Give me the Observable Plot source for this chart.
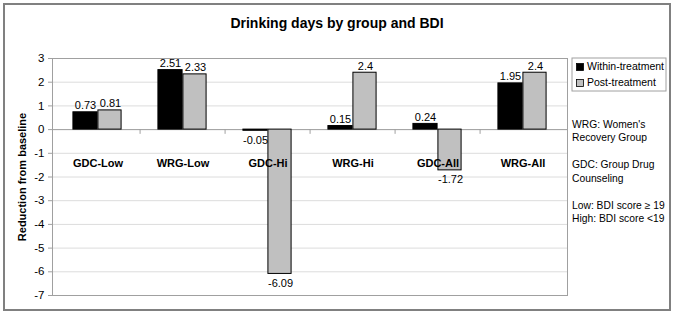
<!DOCTYPE html>
<html><head><meta charset="utf-8">
<script src="https://cdn.jsdelivr.net/npm/d3@7"></script>
<script src="https://cdn.jsdelivr.net/npm/@observablehq/plot@0.6"></script>
<style>
body{margin:0;background:#fff;}
#chart svg{font-family:Arial,"Liberation Sans",sans-serif;display:block;}
</style>
</head><body><div id="chart"></div>
<script>
const categories = ["GDC-Low","WRG-Low","GDC-Hi","WRG-Hi","GDC-All","WRG-All"];
const seriesNames = ["Within-treatment","Post-treatment"];
const withinValues = [0.73, 2.51, -0.05, 0.15, 0.24, 1.95];
const postValues = [0.81, 2.33, -6.09, 2.4, -1.72, 2.4];
const yTicks = [-7,-6,-5,-4,-3,-2,-1,0,1,2,3];
const titleText = "Drinking days by group and BDI";
const yLabel = "Reduction from baseline";
const noteLines = ["WRG: Women's","Recovery Group","","GDC: Group Drug","Counseling","","Low: BDI score \u2265 19","High: BDI score <19"];
const seriesColors = ["#000000","#c0c0c0"];

const withinRows = categories.map((c,i)=>({cat:c, value:withinValues[i]}));
const postRows = categories.map((c,i)=>({cat:c, value:postValues[i]}));

const W = 675, H = 316;
const mL = 52, mR = 108, mT = 58, mB = 21;
const bw = (W - mL - mR) / categories.length;
const barW = 25;
const half = bw/2;

const fmt = d => String(d);
function labels(rows, dx) {
  return [
    Plot.text(rows.filter(d=>d.value>=0), {x:"cat", y:"value", text:d=>fmt(d.value), dx, dy:-3, lineAnchor:"bottom", fontSize:11, fill:"#000"}),
    Plot.text(rows.filter(d=>d.value<0), {x:"cat", y:"value", text:d=>fmt(d.value), dx, dy:5, lineAnchor:"top", fontSize:11, fill:"#000"})
  ];
}

const plot = Plot.plot({
  width: W, height: H,
  marginLeft: mL, marginRight: mR, marginTop: mT, marginBottom: mB,
  style: {fontFamily:"Arial, 'Liberation Sans', sans-serif", background:"#fff"},
  x: {type:"band", domain:categories, padding:0, axis:null},
  y: {domain:[-7,3], axis:null},
  marks: [
    Plot.ruleY(yTicks, {stroke:"#dcdcdc"}),
    Plot.frame({stroke:"#a0a0a0"}),
    Plot.ruleY([0], {stroke:"#a0a0a0"}),
    Plot.ruleX(categories.slice(1), {x:d=>d, y1:0, y2:-0.2, dx:-half, stroke:"#a0a0a0"}),
    Plot.axisY(yTicks, {tickSize:4, tickPadding:4, fontSize:11.5, stroke:"#a0a0a0", fill:"#000", label:null, tickFormat:d=>String(d)}),
    Plot.barY(withinRows, {x:"cat", y:"value", fill:seriesColors[0], stroke:"#000", strokeWidth:1, insetLeft: half-barW, insetRight: half}),
    Plot.barY(postRows, {x:"cat", y:"value", fill:seriesColors[1], stroke:"#000", strokeWidth:1, insetLeft: half, insetRight: half-barW+1}),
    ...labels(withinRows, -barW/2),
    ...labels(postRows, barW/2),
    Plot.text(categories, {x:d=>d, y:0, dy:34, fontWeight:"bold", fontSize:11, fill:"#000"}),
    Plot.text([yLabel], {frameAnchor:"left", textAnchor:"middle", rotate:-90, dx:-30, fontWeight:"bold", fontSize:11, fill:"#000"})
  ]
});

document.getElementById("chart").appendChild(plot);
const svg = d3.select(plot);

// outer border
svg.append("rect").attr("x",4).attr("y",4).attr("width",666).attr("height",306)
  .attr("fill","none").attr("stroke","#808080").attr("stroke-width",2);

// title
svg.append("text").attr("x",337).attr("y",24).attr("text-anchor","middle")
  .attr("dominant-baseline","middle").attr("font-weight","bold").attr("font-size",14)
  .attr("fill","#000").text(titleText);

// legend
const lg = svg.append("g").attr("text-anchor","start");
lg.append("rect").attr("x",572).attr("y",58).attr("width",94).attr("height",33)
  .attr("fill","#fff").attr("stroke","#a0a0a0");
seriesNames.forEach((s,i)=>{
  const cy = 67 + i*16;
  lg.append("rect").attr("x",576.5).attr("y",cy-3.5).attr("width",7).attr("height",7)
    .attr("fill",seriesColors[i]).attr("stroke","#000").attr("stroke-width",0.8);
  lg.append("text").attr("x",587).attr("y",cy).attr("dominant-baseline","middle")
    .attr("text-anchor","start").attr("font-size",10.5).attr("fill","#000").text(s);
});

// notes
const noteY = [125,138,null,165,179,null,206,219];
const ng = svg.append("g").attr("text-anchor","start");
noteLines.forEach((t,i)=>{
  if (!t) return;
  ng.append("text").attr("x",572).attr("y",noteY[i]).attr("dominant-baseline","middle")
    .attr("text-anchor","start").attr("font-size",10.3).attr("fill","#000").text(t);
});
</script>
</body></html>
